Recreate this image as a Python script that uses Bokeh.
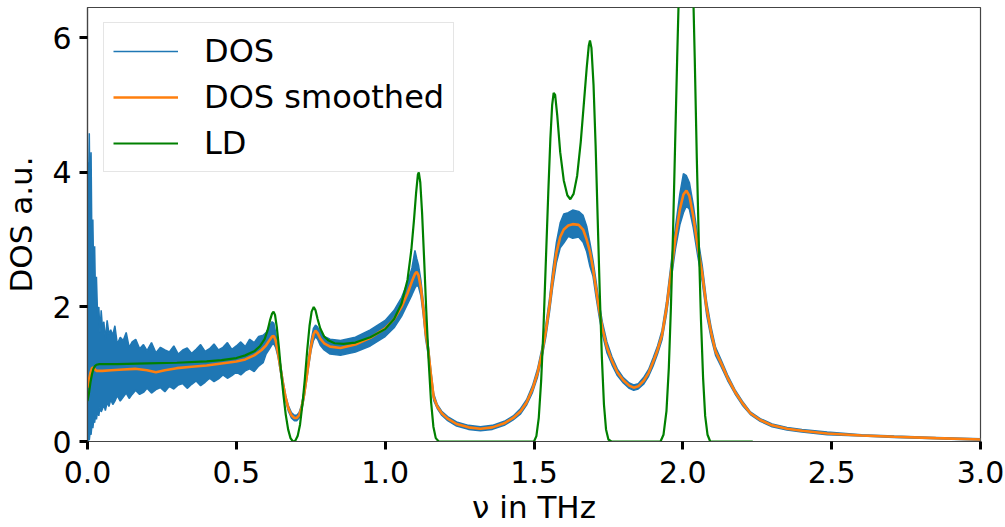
from bokeh.plotting import figure
from bokeh.models import Range1d, FixedTicker, Legend, LegendItem
from bokeh.embed import file_html
from bokeh.resources import INLINE

# ---- DOS (raw, noisy): upper / lower envelope ----
dos_x = [0.000, 0.003, 0.006, 0.009, 0.012, 0.015, 0.018, 0.021, 0.024, 0.027,
         0.030, 0.034, 0.038, 0.042, 0.046, 0.050, 0.055, 0.060, 0.066, 0.072,
         0.078, 0.085, 0.092, 0.100, 0.110, 0.120, 0.130, 0.140, 0.150, 0.162,
         0.175, 0.188, 0.200, 0.215, 0.230, 0.245, 0.260, 0.275, 0.290, 0.305,
         0.320, 0.335, 0.350, 0.365, 0.380, 0.395, 0.410, 0.425, 0.440, 0.455,
         0.470, 0.485, 0.500, 0.515, 0.530, 0.545, 0.560, 0.575, 0.590,
         0.600, 0.612, 0.620, 0.626, 0.632, 0.640, 0.648, 0.657, 0.666, 0.675,
         0.685, 0.695, 0.703, 0.711, 0.719, 0.727, 0.735, 0.743, 0.751, 0.759,
         0.766, 0.773, 0.782, 0.795, 0.815, 0.850, 0.900, 0.950, 1.000, 1.030,
         1.055, 1.075, 1.090, 1.100, 1.106, 1.112, 1.120, 1.128, 1.136, 1.145,
         1.154, 1.163, 1.175, 1.190, 1.210, 1.240, 1.280, 1.320, 1.360, 1.400,
         1.430, 1.455, 1.475, 1.495, 1.512, 1.527, 1.540, 1.552, 1.563, 1.575,
         1.588, 1.600, 1.615, 1.630, 1.650, 1.665, 1.677, 1.688, 1.698, 1.708,
         1.718, 1.730, 1.745, 1.762, 1.780, 1.800, 1.820, 1.835, 1.850, 1.868,
         1.885, 1.900, 1.915, 1.930, 1.945, 1.960, 1.975, 1.990, 2.002, 2.012,
         2.022, 2.035, 2.050, 2.065, 2.080, 2.095, 2.110, 2.130, 2.150, 2.175,
         2.200, 2.227, 2.260, 2.300, 2.350, 2.400, 2.485, 2.600, 2.710, 2.850,
         3.000]
dos_hi = [4.15, 3.60, 4.58, 3.20, 4.30, 2.80, 3.30, 2.40, 2.90, 2.10,
          2.45, 1.85, 2.00, 1.62, 1.95, 1.70, 1.78, 1.52, 1.80, 1.60,
          1.66, 1.58, 1.72, 1.45, 1.55, 1.50, 1.62, 1.40, 1.48, 1.52,
          1.38, 1.44, 1.35, 1.47, 1.32, 1.40, 1.36, 1.33, 1.42, 1.30,
          1.36, 1.39, 1.31, 1.37, 1.44, 1.34, 1.38, 1.45, 1.36, 1.40,
          1.47, 1.37, 1.42, 1.48, 1.41, 1.52, 1.47, 1.56, 1.58,
          1.62, 1.72, 1.78, 1.76, 1.62, 1.40, 1.16, 0.90, 0.68, 0.53,
          0.43, 0.39, 0.39, 0.43, 0.54, 0.73, 0.97, 1.24, 1.50, 1.68,
          1.73, 1.70, 1.63, 1.56, 1.52, 1.50, 1.55, 1.66, 1.80, 1.95,
          2.14, 2.36, 2.58, 2.84, 2.72, 2.62, 2.40, 2.08, 1.72, 1.42,
          1.04, 0.71, 0.55, 0.45, 0.37, 0.29, 0.24, 0.22, 0.24, 0.30,
          0.38, 0.49, 0.62, 0.83, 1.08, 1.39, 1.74, 2.12, 2.55, 2.95,
          3.25, 3.38, 3.40, 3.44, 3.42, 3.36, 3.20, 2.95, 2.70, 2.40,
          2.08, 1.77, 1.48, 1.26, 1.08, 0.95, 0.87, 0.84, 0.86, 0.95,
          1.07, 1.24, 1.42, 1.65, 2.07, 2.62, 3.18, 3.68, 3.98, 3.95,
          3.85, 3.52, 3.04, 2.62, 2.08, 1.70, 1.40, 1.20, 0.99, 0.77,
          0.60, 0.44, 0.34, 0.26, 0.21, 0.18, 0.14, 0.10, 0.08, 0.06,
          0.04]
dos_lo = [0.00, 0.05, 0.02, 0.15, 0.10, 0.25, 0.20, 0.32, 0.28, 0.40,
          0.33, 0.45, 0.38, 0.52, 0.44, 0.48, 0.55, 0.46, 0.58, 0.52,
          0.62, 0.55, 0.60, 0.68, 0.60, 0.66, 0.72, 0.64, 0.70, 0.76,
          0.70, 0.73, 0.79, 0.72, 0.77, 0.80, 0.74, 0.82, 0.78, 0.84,
          0.86, 0.79, 0.85, 0.90, 0.83, 0.88, 0.94, 0.89, 0.93, 0.99,
          0.94, 0.98, 1.03, 0.99, 1.05, 1.08, 1.04, 1.12, 1.17,
          1.30, 1.38, 1.44, 1.45, 1.40, 1.26, 1.04, 0.80, 0.60, 0.45,
          0.35, 0.31, 0.31, 0.35, 0.46, 0.63, 0.87, 1.12, 1.35, 1.50,
          1.56, 1.52, 1.43, 1.36, 1.30, 1.28, 1.33, 1.42, 1.56, 1.69,
          1.86, 2.04, 2.18, 2.28, 2.32, 2.30, 2.16, 1.88, 1.52, 1.28,
          0.92, 0.61, 0.49, 0.39, 0.31, 0.23, 0.18, 0.16, 0.18, 0.24,
          0.32, 0.41, 0.54, 0.73, 0.96, 1.25, 1.56, 1.92, 2.30, 2.65,
          2.88, 2.95, 3.05, 3.02, 3.04, 2.96, 2.82, 2.60, 2.46, 2.16,
          1.88, 1.59, 1.32, 1.14, 0.98, 0.87, 0.79, 0.76, 0.78, 0.85,
          0.97, 1.12, 1.30, 1.51, 1.89, 2.38, 2.86, 3.22, 3.40, 3.50,
          3.45, 3.18, 2.76, 2.38, 1.88, 1.54, 1.28, 1.10, 0.91, 0.71,
          0.54, 0.40, 0.30, 0.22, 0.17, 0.14, 0.10, 0.08, 0.06, 0.04,
          0.02]

# ---- DOS smoothed ----
smooth_x = [0.000, 0.005, 0.010, 0.015, 0.020, 0.025, 0.030, 0.050, 0.080, 0.120,
            0.160, 0.200, 0.230, 0.260, 0.300, 0.350, 0.400, 0.450, 0.500, 0.530,
            0.560, 0.585, 0.600, 0.612, 0.620, 0.626, 0.632, 0.640, 0.648, 0.657,
            0.666, 0.675, 0.685, 0.695, 0.703, 0.711, 0.719, 0.727, 0.735, 0.743,
            0.751, 0.759, 0.766, 0.773, 0.782, 0.795, 0.815, 0.850, 0.900, 0.950,
            1.000, 1.030, 1.055, 1.075, 1.090, 1.100, 1.106, 1.112, 1.120, 1.128,
            1.136, 1.145, 1.154, 1.163, 1.175, 1.190, 1.210, 1.240, 1.280, 1.320,
            1.360, 1.400, 1.430, 1.455, 1.475, 1.495, 1.512, 1.527, 1.540, 1.552,
            1.563, 1.575, 1.588, 1.600, 1.615, 1.630, 1.650, 1.665, 1.677, 1.688,
            1.698, 1.708, 1.718, 1.730, 1.745, 1.762, 1.780, 1.800, 1.820, 1.835,
            1.850, 1.868, 1.885, 1.900, 1.915, 1.930, 1.945, 1.960, 1.975, 1.990,
            2.002, 2.012, 2.022, 2.035, 2.050, 2.065, 2.080, 2.095, 2.110, 2.130,
            2.150, 2.175, 2.200, 2.227, 2.260, 2.300, 2.350, 2.400, 2.485, 2.600,
            2.710, 2.850, 3.000]
smooth_y = [0.80, 0.92, 1.02, 1.09, 1.10, 1.07, 1.05, 1.05, 1.06, 1.07,
            1.08, 1.06, 1.03, 1.06, 1.09, 1.11, 1.13, 1.16, 1.19, 1.22,
            1.28, 1.36, 1.43, 1.51, 1.56, 1.57, 1.50, 1.32, 1.10, 0.85,
            0.64, 0.49, 0.39, 0.35, 0.35, 0.39, 0.50, 0.68, 0.92, 1.18,
            1.42, 1.59, 1.65, 1.61, 1.53, 1.46, 1.41, 1.39, 1.44, 1.54,
            1.68, 1.82, 2.00, 2.20, 2.38, 2.49, 2.52, 2.47, 2.28, 1.98,
            1.62, 1.35, 0.98, 0.66, 0.52, 0.42, 0.34, 0.26, 0.21, 0.19,
            0.21, 0.27, 0.35, 0.45, 0.58, 0.78, 1.02, 1.32, 1.65, 2.02,
            2.42, 2.80, 3.04, 3.15, 3.21, 3.23, 3.22, 3.15, 3.00, 2.82,
            2.58, 2.28, 1.98, 1.68, 1.40, 1.20, 1.03, 0.91, 0.83, 0.80,
            0.82, 0.90, 1.02, 1.18, 1.36, 1.58, 1.98, 2.50, 3.02, 3.45,
            3.67, 3.73, 3.65, 3.35, 2.90, 2.50, 1.98, 1.62, 1.34, 1.15,
            0.95, 0.74, 0.57, 0.42, 0.32, 0.24, 0.19, 0.16, 0.12, 0.09,
            0.07, 0.05, 0.03]

# ---- LD ----
ld_x = [0.000, 0.005, 0.010, 0.015, 0.020, 0.025, 0.030, 0.040, 0.100, 0.200,
        0.300, 0.400, 0.450, 0.500, 0.530, 0.560, 0.580, 0.595, 0.605, 0.613,
        0.620, 0.625, 0.630, 0.636, 0.643, 0.650, 0.658, 0.666, 0.674, 0.682,
        0.690, 0.698, 0.706, 0.714, 0.722, 0.730, 0.738, 0.746, 0.753, 0.760,
        0.766, 0.773, 0.782, 0.795, 0.810, 0.830, 0.860, 0.900, 0.950, 1.000,
        1.030, 1.055, 1.075, 1.088, 1.097, 1.104, 1.110, 1.113, 1.118, 1.124,
        1.131, 1.138, 1.146, 1.154, 1.162, 1.170, 1.180, 1.500, 1.508, 1.516,
        1.524, 1.532, 1.540, 1.548, 1.555, 1.561, 1.566, 1.571, 1.578, 1.588,
        1.600, 1.612, 1.622, 1.633, 1.645, 1.657, 1.668, 1.677, 1.684, 1.688,
        1.693, 1.700, 1.707, 1.714, 1.721, 1.728, 1.735, 1.742, 1.750, 1.760,
        1.925, 1.935, 1.945, 1.953, 1.960, 1.967, 1.974, 1.981, 1.988, 2.000,
        2.010, 2.020, 2.030, 2.040, 2.047, 2.054, 2.061, 2.068, 2.075, 2.083,
        2.092, 2.235]
ld_y = [0.60, 0.72, 0.88, 1.00, 1.08, 1.12, 1.14, 1.15, 1.15, 1.16,
        1.17, 1.19, 1.21, 1.24, 1.28, 1.34, 1.42, 1.52, 1.65, 1.80,
        1.90, 1.93, 1.88, 1.70, 1.40, 1.05, 0.70, 0.40, 0.18, 0.05,
        0.00, 0.01, 0.08, 0.25, 0.55, 0.92, 1.35, 1.72, 1.93, 2.00,
        1.95, 1.82, 1.68, 1.56, 1.50, 1.46, 1.45, 1.47, 1.55, 1.67,
        1.82, 2.05, 2.40, 2.85, 3.30, 3.70, 3.97, 4.00, 3.85, 3.40,
        2.70, 1.95, 1.20, 0.60, 0.22, 0.05, 0.00, 0.00, 0.08, 0.35,
        0.90, 1.70, 2.70, 3.70, 4.50, 5.00, 5.18, 5.15, 4.85, 4.30,
        3.88, 3.66, 3.60, 3.68, 3.95, 4.45, 5.05, 5.55, 5.88, 5.96,
        5.85, 5.30, 4.40, 3.30, 2.20, 1.25, 0.55, 0.18, 0.03, 0.00,
        0.00, 0.10, 0.45, 1.10, 2.00, 3.10, 4.40, 5.70, 6.90, 8.50,
        9.00, 8.70, 7.60, 5.70, 4.20, 2.90, 1.80, 0.95, 0.38, 0.10,
        0.00, 0.00]

x_ticks = [0.0, 0.5, 1.0, 1.5, 2.0, 2.5, 3.0]
x_tick_labels = ["0.0", "0.5", "1.0", "1.5", "2.0", "2.5", "3.0"]
y_ticks = [0, 2, 4, 6]

FONT = "DejaVu Sans"
TICK_FS = "30px"
LABEL_FS = "31px"
LEGEND_FS = "32px"

p = figure(width=1005, height=527, output_backend="svg", toolbar_location=None,
           x_range=Range1d(0, 3.0), y_range=Range1d(0, 6.45),
           min_border_left=87, min_border_right=25, min_border_top=7,
           min_border_bottom=86)
p.grid.visible = False
p.outline_line_color = "#444444"
p.outline_line_width = 1.2
p.background_fill_color = "white"
p.border_fill_color = "white"

BLUE = "#1f77b4"
ORANGE = "#ff7f0e"
GREEN = "#008000"

p.varea(x=dos_x, y1=dos_lo, y2=dos_hi, fill_color=BLUE, fill_alpha=1.0)
r_dos = p.line(dos_x, dos_hi, line_color=BLUE, line_width=1.5)
p.line(dos_x, dos_lo, line_color=BLUE, line_width=1.5)
r_sm = p.line(smooth_x, smooth_y, line_color=ORANGE, line_width=2.6)
r_ld = p.line(ld_x, ld_y, line_color=GREEN, line_width=2.2)

for ax in (p.xaxis[0], p.yaxis[0]):
    ax.axis_line_color = "#444444"
    ax.axis_line_width = 1.2
    ax.major_tick_in = 0
    ax.major_tick_out = 8
    ax.major_tick_line_width = 3
    ax.major_tick_line_color = "black"
    ax.minor_tick_line_color = None
    ax.major_label_text_font = FONT
    ax.major_label_text_font_size = TICK_FS
    ax.major_label_text_color = "black"
    ax.axis_label_text_font = FONT
    ax.axis_label_text_font_size = LABEL_FS
    ax.axis_label_text_font_style = "normal"
    ax.axis_label_text_color = "black"

p.xaxis[0].ticker = FixedTicker(ticks=x_ticks)
p.xaxis[0].major_label_overrides = {t: l for t, l in zip(x_ticks, x_tick_labels)}
p.xaxis[0].major_label_standoff = 11
p.xaxis[0].axis_label = "ν in THz"
p.xaxis[0].axis_label_standoff = 3

p.yaxis[0].ticker = FixedTicker(ticks=y_ticks)
p.yaxis[0].major_label_standoff = 8
p.yaxis[0].axis_label = "DOS a.u."
p.yaxis[0].axis_label_standoff = 10

legend = Legend(items=[LegendItem(label="DOS", renderers=[r_dos]),
                       LegendItem(label="DOS smoothed", renderers=[r_sm]),
                       LegendItem(label="LD", renderers=[r_ld])],
                location=(16, 269))
legend.label_text_font = FONT
legend.label_text_font_size = LEGEND_FS
legend.label_text_color = "black"
legend.glyph_width = 65
legend.glyph_height = 30
legend.label_standoff = 26
legend.label_height = 30
legend.padding = 9
legend.spacing = 8
legend.margin = 0
legend.border_line_color = "#cccccc"
legend.border_line_width = 1
legend.background_fill_color = "white"
legend.background_fill_alpha = 0.8
p.add_layout(legend, "center")

open("out.html", "w").write(file_html(p, INLINE))
